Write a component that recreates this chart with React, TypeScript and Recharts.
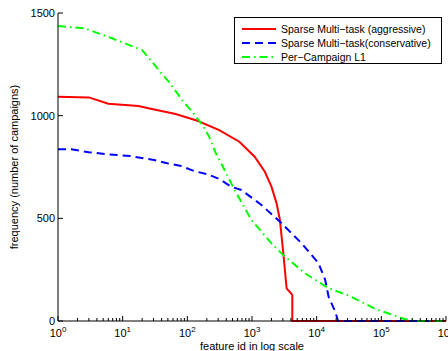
import React from 'react';
import { Legend, Line, LineChart, XAxis, YAxis } from 'recharts';

// feature id (log scale) vs number of campaigns
const aggressive = [
  { x: 1, y: 1092 },
  { x: 3, y: 1089 },
  { x: 6, y: 1058 },
  { x: 17.6, y: 1047 },
  { x: 25, y: 1036 },
  { x: 66, y: 1008 },
  { x: 143, y: 975 },
  { x: 311, y: 930 },
  { x: 637, y: 873 },
  { x: 1100, y: 800 },
  { x: 1580, y: 727 },
  { x: 2000, y: 654 },
  { x: 2400, y: 573 },
  { x: 2700, y: 492 },
  { x: 3050, y: 330 },
  { x: 3430, y: 159 },
  { x: 4200, y: 127 },
  { x: 4200, y: 0 },
  { x: 1000000, y: 0 },
];

const conservative = [
  { x: 1, y: 836 },
  { x: 1.6, y: 836 },
  { x: 3, y: 822 },
  { x: 6, y: 812 },
  { x: 13.2, y: 803 },
  { x: 30.5, y: 784 },
  { x: 49, y: 768 },
  { x: 80, y: 755 },
  { x: 128, y: 730 },
  { x: 207, y: 714 },
  { x: 314, y: 691 },
  { x: 478, y: 654 },
  { x: 684, y: 638 },
  { x: 1400, y: 565 },
  { x: 2870, y: 476 },
  { x: 5870, y: 378 },
  { x: 10700, y: 281 },
  { x: 13550, y: 200 },
  { x: 15300, y: 118 },
  { x: 19400, y: 45 },
  { x: 21400, y: 0 },
  { x: 1000000, y: 0 },
];

const perCampaign = [
  { x: 1, y: 1437 },
  { x: 2.6, y: 1425 },
  { x: 4.2, y: 1401 },
  { x: 6.8, y: 1377 },
  { x: 10.9, y: 1352 },
  { x: 19.8, y: 1320 },
  { x: 28.4, y: 1263 },
  { x: 36, y: 1222 },
  { x: 52, y: 1165 },
  { x: 83, y: 1076 },
  { x: 119, y: 1019 },
  { x: 171, y: 955 },
  { x: 217, y: 898 },
  { x: 276, y: 817 },
  { x: 334, y: 768 },
  { x: 538, y: 638 },
  { x: 980, y: 492 },
  { x: 2000, y: 378 },
  { x: 3050, y: 321 },
  { x: 6620, y: 232 },
  { x: 15300, y: 159 },
  { x: 29500, y: 127 },
  { x: 50600, y: 91 },
  { x: 81500, y: 58 },
  { x: 140000, y: 33 },
  { x: 226000, y: 10 },
  { x: 363000, y: 0 },
  { x: 1000000, y: 0 },
];

const majorTicks = [1, 10, 100, 1000, 10000, 100000, 1000000];
const minorTicks = majorTicks
  .slice(0, -1)
  .flatMap((d) => [2, 3, 4, 5, 6, 7, 8, 9].map((m) => m * d));
const xTicks = [...majorTicks, ...minorTicks].sort((a, b) => a - b);
const yTicks = [0, 500, 1000, 1500];

const series = [
  { name: 'Sparse Multi\u2212task (aggressive)', data: aggressive, color: '#ff0000', dash: undefined },
  { name: 'Sparse Multi\u2212task(conservative)', data: conservative, color: '#0000ff', dash: '8 5' },
  { name: 'Per\u2212Campaign L1', data: perCampaign, color: '#00ff00', dash: '8 4 1.5 4' },
];

const FONT = '"Liberation Sans", Arial, Helvetica, sans-serif';

const isMajor = (v: number) => majorTicks.includes(v);

const BottomTick = ({ x, y, payload }: any) => {
  const v = payload.value;
  const major = isMajor(v);
  return (
    <g>
      <line x1={x} x2={x} y1={y} y2={y - (major ? 5 : 3)} stroke="#000" />
      {major && (
        <text x={x} y={y + 16} textAnchor="middle" fontSize={11} fontFamily={FONT} fill="#000">
          10
          <tspan dy={-5} fontSize={8}>
            {Math.round(Math.log10(v))}
          </tspan>
        </text>
      )}
    </g>
  );
};

const TopTick = ({ x, y, payload }: any) => (
  <line x1={x} x2={x} y1={y} y2={y + (isMajor(payload.value) ? 5 : 3)} stroke="#000" />
);

const LeftTick = ({ x, y, payload }: any) => (
  <g>
    <line x1={x} x2={x + 5} y1={y} y2={y} stroke="#000" />
    <text x={x - 3} y={y + 4} textAnchor="end" fontSize={11} fontFamily={FONT} fill="#000">
      {payload.value}
    </text>
  </g>
);

const RightTick = ({ x, y }: any) => <line x1={x} x2={x - 5} y1={y} y2={y} stroke="#000" />;

const LegendBox = () => (
  <div
    style={{
      border: '1px solid #000',
      background: '#fff',
      boxSizing: 'border-box',
      width: 208,
      height: 47,
      padding: '4px 0 0 7px',
      fontFamily: FONT,
      fontSize: 10.5,
      lineHeight: '14px',
    }}
  >
    {series.map((s) => (
      <div key={s.name} style={{ display: 'flex', alignItems: 'center', height: 14 }}>
        <svg width={34} height={10} style={{ marginRight: 5 }}>
          <line x1={0} x2={34} y1={5} y2={5} stroke={s.color} strokeWidth={2} strokeDasharray={s.dash} />
        </svg>
        <span>{s.name}</span>
      </div>
    ))}
  </div>
);

export default function App() {
  return (
    <div style={{ position: 'absolute', left: 0, top: 0, background: '#fff' }}>
      <style>{'body{margin:0;background:#fff}'}</style>
      <LineChart width={448} height={351} margin={{ top: 13, right: 2, bottom: 0, left: 0 }}>
        <XAxis
          dataKey="x"
          type="number"
          scale="log"
          domain={[1, 1000000]}
          allowDataOverflow
          ticks={xTicks}
          interval={0}
          height={30}
          tickSize={0}
          tickMargin={0}
          tick={<BottomTick />}
          axisLine={{ stroke: '#000' }}
          label={{
            value: 'feature id in log scale',
            position: 'insideBottom',
            offset: 1,
            fontSize: 11,
            fontFamily: FONT,
            fill: '#000',
          }}
        />
        <XAxis
          xAxisId="top"
          orientation="top"
          dataKey="x"
          type="number"
          scale="log"
          domain={[1, 1000000]}
          allowDataOverflow
          ticks={xTicks}
          interval={0}
          height={0}
          tickSize={0}
          tickMargin={0}
          tick={<TopTick />}
          axisLine={{ stroke: '#000' }}
        />
        <YAxis
          type="number"
          domain={[0, 1500]}
          ticks={yTicks}
          interval={0}
          width={58}
          tickSize={0}
          tickMargin={0}
          tick={<LeftTick />}
          axisLine={{ stroke: '#000' }}
          label={{
            value: 'frequency (number of campaigns)',
            angle: -90,
            position: 'insideLeft',
            offset: 0,
            dx: 14,
            fontSize: 11,
            fontFamily: FONT,
            fill: '#000',
            textAnchor: 'middle',
          }}
        />
        <YAxis
          yAxisId="right"
          orientation="right"
          type="number"
          domain={[0, 1500]}
          ticks={yTicks}
          interval={0}
          width={0}
          tickSize={0}
          tickMargin={0}
          tick={<RightTick />}
          axisLine={{ stroke: '#000' }}
        />
        <Legend
          layout="vertical"
          align="center"
          verticalAlign="middle"
          content={<LegendBox />}
          wrapperStyle={{ left: 234, top: 17, width: 208, height: 47 }}
        />
        {series.map((s) => (
          <Line
            key={s.name}
            data={s.data}
            dataKey="y"
            name={s.name}
            type="linear"
            stroke={s.color}
            strokeWidth={2}
            strokeDasharray={s.dash}
            dot={false}
            activeDot={false}
            isAnimationActive={false}
          />
        ))}
      </LineChart>
    </div>
  );
}
